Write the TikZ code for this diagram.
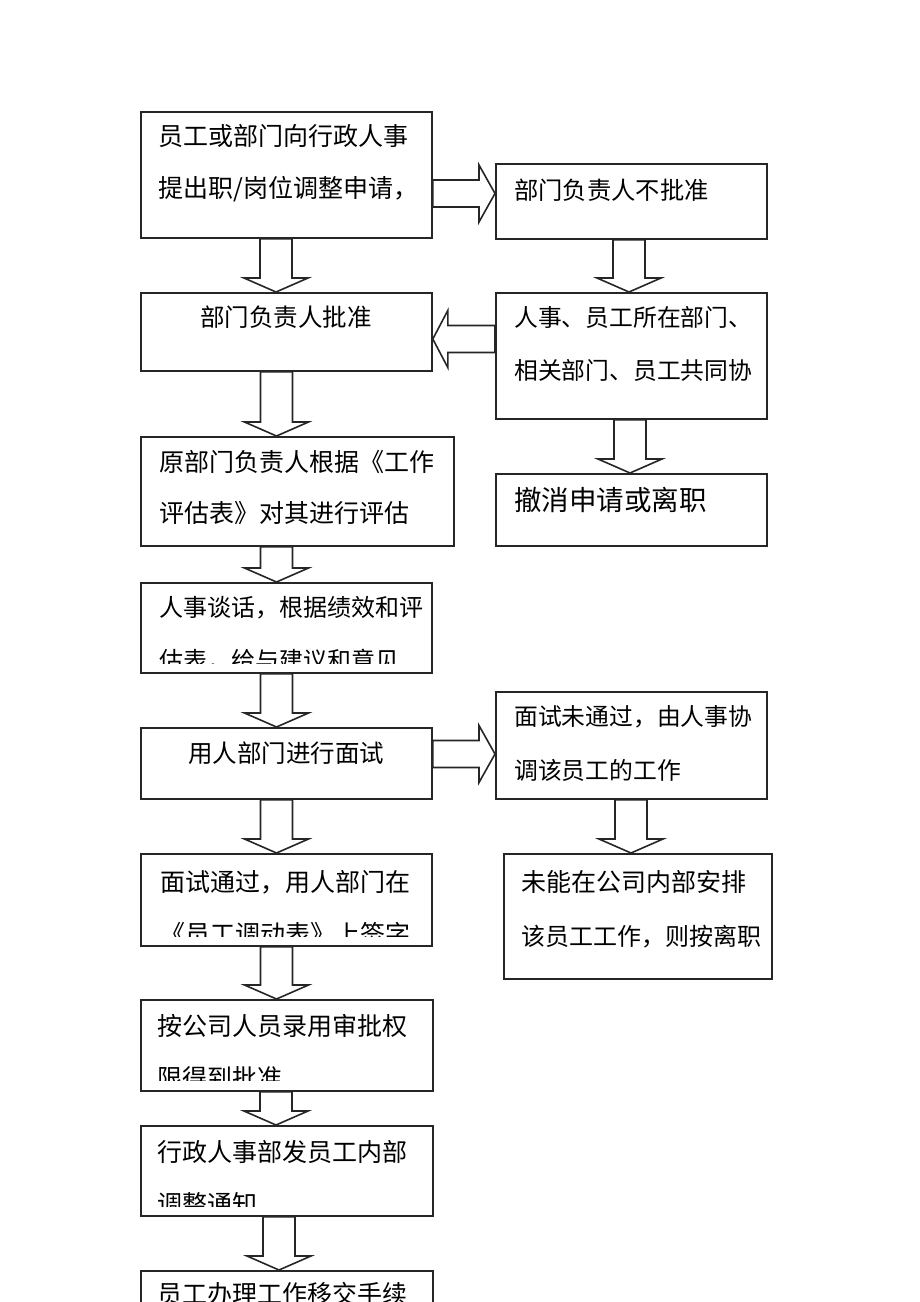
\documentclass[tikz,border=0pt]{standalone}
\usepackage{fontspec}
\setmainfont{Noto Sans CJK SC}
\usetikzlibrary{calc}
\tikzset{
  box/.style={draw=black!85, line width=1.8pt, fill=white, rectangle, inner sep=0pt, anchor=north west},
  blk/.style={draw=black!85, line width=1.6pt, fill=white, line join=miter},
  txt/.style={anchor=west, inner sep=0pt, font=\fontsize{25pt}{25pt}\selectfont},
  ctxt/.style={anchor=center, inner sep=0pt, font=\fontsize{24.5pt}{25pt}\selectfont},
  rtxt/.style={anchor=west, inner sep=0pt, font=\fontsize{23.8pt}{25pt}\selectfont}
}
% down block arrow: source, target, x centre
\newcommand\dnarrow[3]{%
  \draw[blk] let \p1=(#1.south), \p2=(#2.north) in
  ({#3pt-16pt},\y1) -- ({#3pt-16pt},{\y2+14pt}) -- ({#3pt-32pt},{\y2+14pt}) -- (#3pt,\y2)
  -- ({#3pt+32pt},{\y2+14pt}) -- ({#3pt+16pt},{\y2+14pt}) -- ({#3pt+16pt},\y1) -- cycle;}
% right block arrow: source, target, y centre (downward px)
\newcommand\rtarrow[3]{%
  \draw[blk] let \p1=(#1.east), \p2=(#2.west) in
  (\x1,{-#3pt+13.5pt}) -- ({\x2-16pt},{-#3pt+13.5pt}) -- ({\x2-16pt},{-#3pt+28.5pt}) -- (\x2,-#3pt)
  -- ({\x2-16pt},{-#3pt-28.5pt}) -- ({\x2-16pt},{-#3pt-13.5pt}) -- (\x1,{-#3pt-13.5pt}) -- cycle;}
% left block arrow: source (right), target (left), y centre
\newcommand\ltarrow[3]{%
  \draw[blk] let \p1=(#1.west), \p2=(#2.east) in
  (\x1,{-#3pt+13.5pt}) -- ({\x2+15pt},{-#3pt+13.5pt}) -- ({\x2+15pt},{-#3pt+28.5pt}) -- (\x2,-#3pt)
  -- ({\x2+15pt},{-#3pt-28.5pt}) -- ({\x2+15pt},{-#3pt-13.5pt}) -- (\x1,{-#3pt-13.5pt}) -- cycle;}
\begin{document}
\begin{tikzpicture}[x=1pt,y=-1pt]
\clip (0,0) rectangle (920,1302);
\fill[white] (0,0) rectangle (920,1302);

% boxes
\node[box, minimum width=291pt, minimum height=126pt] (b1) at (140,111) {};
\node[box, minimum width=271pt, minimum height=75pt]  (r1) at (495,163) {};
\node[box, minimum width=291pt, minimum height=78pt]  (b2) at (140,292) {};
\node[box, minimum width=271pt, minimum height=126pt] (r2) at (495,292) {};
\node[box, minimum width=313pt, minimum height=109pt] (b3) at (140,436) {};
\node[box, minimum width=271pt, minimum height=72pt]  (r3) at (495,473) {};
\node[box, minimum width=291pt, minimum height=90pt]  (b4) at (140,582) {};
\node[box, minimum width=291pt, minimum height=71pt]  (b5) at (140,727) {};
\node[box, minimum width=271pt, minimum height=107pt] (r5) at (495,691) {};
\node[box, minimum width=291pt, minimum height=92pt]  (b6) at (140,853) {};
\node[box, minimum width=268pt, minimum height=125pt] (r6) at (503,853) {};
\node[box, minimum width=292pt, minimum height=91pt]  (b7) at (140,999) {};
\node[box, minimum width=292pt, minimum height=90pt]  (b8) at (140,1125) {};
\node[box, minimum width=292pt, minimum height=80pt]  (b9) at (140,1270) {};

% arrows
\rtarrow{b1}{r1}{193.5}
\dnarrow{b1}{b2}{276}
\dnarrow{r1}{r2}{629}
\ltarrow{r2}{b2}{339}
\dnarrow{b2}{b3}{276.5}
\dnarrow{r2}{r3}{630}
\dnarrow{b3}{b4}{276.5}
\dnarrow{b4}{b5}{276.5}
\rtarrow{b5}{r5}{754}
\dnarrow{r5}{r6}{631}
\dnarrow{b5}{b6}{276.5}
\dnarrow{b6}{b7}{276.5}
\dnarrow{b7}{b8}{276}
\dnarrow{b8}{b9}{279}

% texts
\node[txt] (t1a) at (158,136) {员工或部门向行政人事};
\node[txt] (t1b) at (158,189) {提出职/岗位调整申请，};
\node[rtxt, font=\fontsize{24.3pt}{25pt}\selectfont] (tr1) at (514,190) {部门负责人不批准};
\node[ctxt] (t2) at (286,317) {部门负责人批准};
\node[rtxt] (tr2a) at (514,317) {人事、员工所在部门、};
\node[rtxt] (tr2b) at (514,370) {相关部门、员工共同协};
\node[txt] (t3a) at (159,462) {原部门负责人根据《工作};
\node[txt] (t3b) at (159,513) {评估表》对其进行评估};
\node[txt, font=\fontsize{27.5pt}{28pt}\selectfont] (tr3) at (514,500) {撤消申请或离职};
\node[txt, font=\fontsize{24pt}{25pt}\selectfont] (t4a) at (159,608) {人事谈话，根据绩效和评};
\begin{scope}
  \clip (b4.north west) rectangle ([yshift=10pt]b4.south east);
  \node[txt, font=\fontsize{24pt}{25pt}\selectfont] (t4b) at (159,661) {估表，给与建议和意见};
\end{scope}
\node[ctxt] (t5) at (286,753) {用人部门进行面试};
\node[rtxt] (tr5a) at (514,717) {面试未通过，由人事协};
\node[rtxt] (tr5b) at (514,770) {调该员工的工作};
\node[txt] (t6a) at (160,882) {面试通过，用人部门在};
\begin{scope}
  \clip (b6.north west) rectangle ([yshift=10pt]b6.south east);
  \node[txt] (t6b) at (160,934) {《员工调动表》上签字};
\end{scope}
\node[txt] (tr6a) at (521,882) {未能在公司内部安排};
\node[txt, font=\fontsize{24pt}{25pt}\selectfont] (tr6b) at (521,937) {该员工工作，则按离职};
\node[txt] (t7a) at (157,1026) {按公司人员录用审批权};
\begin{scope}
  \clip (b7.north west) rectangle ([yshift=11pt]b7.south east);
  \node[txt] (t7b) at (157,1078) {限得到批准};
\end{scope}
\node[txt] (t8a) at (157,1152) {行政人事部发员工内部};
\begin{scope}
  \clip (b8.north west) rectangle ([yshift=10pt]b8.south east);
  \node[txt] (t8b) at (157,1204) {调整通知};
\end{scope}
\node[txt] (t9) at (157,1294) {员工办理工作移交手续};
\end{tikzpicture}
\end{document}
